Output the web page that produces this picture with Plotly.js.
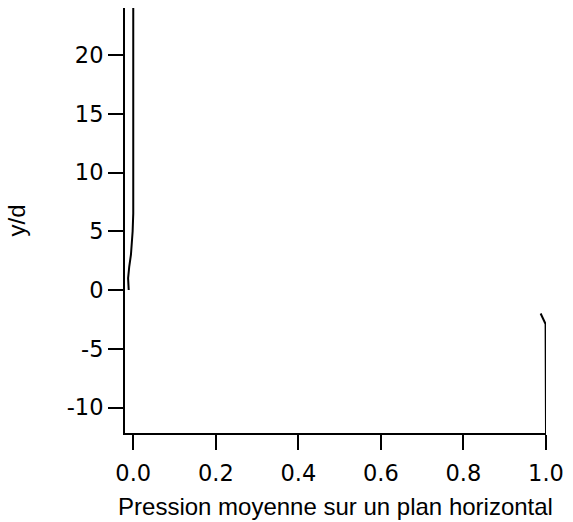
<!DOCTYPE html>
<html>
<head>
<meta charset="utf-8">
<script src="https://cdn.plot.ly/plotly-3.0.1.min.js"></script>
<style>html,body{margin:0;padding:0;background:#fff;}</style>
</head>
<body>
<div id="chart" style="width:573px;height:522px;"></div>
<script>
// Upper profile (near 0)
const upperX = [-0.011, -0.0125, -0.0097, -0.0056, -0.0015, 0.0, 0.0];
const upperY = [0, 1, 2, 3, 5, 6.5, 24];
// Lower profile (near 1)
const lowerX = [0.987, 0.999, 1.0];
const lowerY = [-2, -2.9, -12.2];

const xTickVals = [0, 0.2, 0.4, 0.6, 0.8, 1.0];
const xTickText = ["0.0", "0.2", "0.4", "0.6", "0.8", "1.0"];
const yTickVals = [-10, -5, 0, 5, 10, 15, 20];
const yTickText = ["-10", "-5", "0", "5", "10", "15", "20"];

const xTitle = "Pression moyenne sur un plan horizontal";
const yTitle = "y/d";

const lineStyle = {color: "#000", width: 2};
const traces = [
  {x: upperX, y: upperY, mode: "lines", line: lineStyle, hoverinfo: "skip"},
  {x: lowerX, y: lowerY, mode: "lines", line: lineStyle, hoverinfo: "skip"}
];

const tickFont = {family: "DejaVu Sans", size: 22.5, color: "#000"};
const titleFont = {family: "Liberation Sans, Arial", size: 24, color: "#000"};

const layout = {
  width: 573, height: 522,
  margin: {l: 125, r: 27, t: 8, b: 89, pad: 0},
  paper_bgcolor: "#fff", plot_bgcolor: "#fff",
  showlegend: false,
  xaxis: {
    range: [-0.02, 1.0], tickmode: "array", tickvals: xTickVals, ticktext: xTickText,
    showline: true, linecolor: "#000", linewidth: 2,
    ticks: "outside", ticklen: 15, tickwidth: 2, tickcolor: "#000",
    ticklabelstandoff: 4,
    showgrid: false, zeroline: false,
    tickfont: tickFont,
    title: {text: xTitle, font: titleFont, standoff: 13}
  },
  yaxis: {
    range: [-12.17, 24], tickmode: "array", tickvals: yTickVals, ticktext: yTickText,
    showline: true, linecolor: "#000", linewidth: 2,
    ticks: "outside", ticklen: 15, tickwidth: 2, tickcolor: "#000",
    showgrid: false, zeroline: false,
    tickfont: tickFont,
    title: {text: yTitle, font: titleFont, standoff: 34}
  }
};

Plotly.newPlot("chart", traces, layout, {staticPlot: true, displayModeBar: false});
</script>
</body>
</html>
